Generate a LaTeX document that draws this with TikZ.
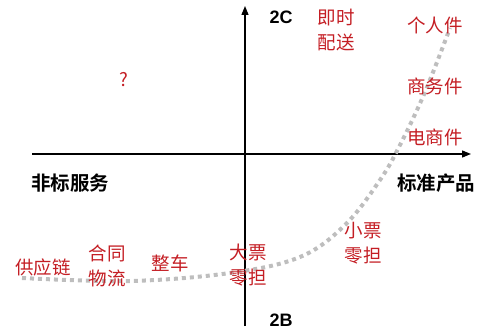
\documentclass[tikz,border=0pt]{standalone}
\usepackage{fontspec}
\setmainfont{Liberation Sans}
\newfontfamily\cjk{Noto Sans CJK SC}
\newfontfamily\cjkbf{Noto Sans CJK SC Bold}
\usepackage{tikz}
\usetikzlibrary{arrows.meta,positioning}
\definecolor{itemred}{RGB}{196,30,36}
\definecolor{dotgray}{RGB}{190,190,190}

\begin{document}
\begin{tikzpicture}[x=1pt, y=-1pt,
    axis/.style={-{Triangle[length=9pt,width=7pt]}, line width=1.3pt, black},
    item/.style={text=itemred, font=\cjk\fontsize{18.5}{25}\selectfont,
                 align=center, inner sep=0pt},
    pole/.style={text=black, font=\bfseries\fontsize{18}{20}\selectfont, inner sep=0pt},
    side/.style={text=black, font=\cjkbf\fontsize{19.5}{20}\selectfont, inner sep=0pt},
    trend/.style={dotgray, line width=4pt, dash pattern=on 4pt off 4pt}
  ]
  \useasboundingbox (0,0) rectangle (481,336);
  % axes
  \coordinate (bottom) at (245,326);
  \coordinate (top)    at (245,6);
  \coordinate (left)   at (32,154);
  \coordinate (right)  at (471,154);
  \draw[axis] (bottom) -- (top);
  \draw[axis] (left) -- (right);
  % axis labels
  \node[pole] (toc) at (281,17)  {2C};
  \node[pole] (tob) at (281,320) {2B};
  \node[side] (nonstd) at (70,183)  {非标服务};
  \node[side] (std)    at (436,183) {标准产品};
  % trend curve
  \draw[trend] plot[smooth, tension=0.6] coordinates
    {(22,278) (130,281) (230,273) (300,257) (345,225) (380,180) (400,145) (425,92) (450,28)};
  % service types
  \node[item] (instant) at (336,30)  {即时\\配送};
  \node[item] (personal) at (435,25)  {个人件};
  \node[item] (business) at (435,86)  {商务件};
  \node[item] (ecom)     at (435,137) {电商件};
  \node[item] (unknown)  at (124,80)  {?};
  \node[item] (supply)   at (43,267)  {供应链};
  \node[item] (contract) at (107,266) {合同\\物流};
  \node[item] (ftl)      at (170,263) {整车};
  \node[item] (ltlbig)   at (248,265) {大票\\零担};
  \node[item] (ltlsmall) at (363,243) {小票\\零担};
\end{tikzpicture}
\end{document}
